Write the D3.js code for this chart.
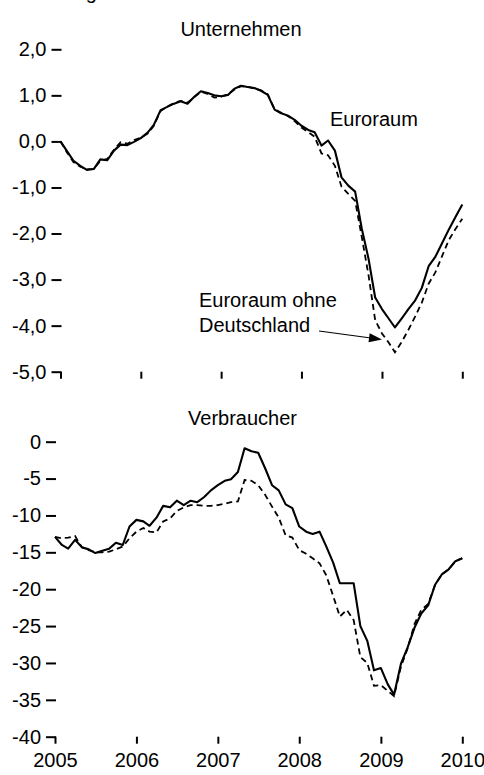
<!DOCTYPE html>
<html>
<head>
<meta charset="utf-8">
<script src="https://cdn.jsdelivr.net/npm/d3@7"></script>
<style>
  body { margin: 0; background: #fff; }
  svg text { font-family: "Liberation Sans", Arial, sans-serif; fill: #000; }
</style>
</head>
<body>
<svg id="chart" width="484" height="775"></svg>
<script>
// Monthly series, January 2005 to January 2010
const firstMonth = "2005-01-01";
const yearTicks = [2005, 2006, 2007, 2008, 2009, 2010];

// Vertrauensindikator Unternehmen
const firmsEuroArea = [
  0.00, -0.22, -0.42, -0.53, -0.62, -0.60, -0.39, -0.41, -0.20, -0.07, -0.08, -0.01,
  0.07, 0.19, 0.36, 0.68, 0.75, 0.82, 0.87, 0.82, 0.97, 1.09, 1.05, 1.00,
  0.98, 1.01, 1.14, 1.21, 1.18, 1.16, 1.10, 1.01, 0.69, 0.61, 0.56, 0.47,
  0.34, 0.25, 0.20, -0.09, 0.02, -0.20, -0.78, -0.96, -1.09, -1.89, -2.55, -3.39,
  -3.64, -3.85, -4.04, -3.84, -3.64, -3.45, -3.18, -2.71, -2.50, -2.21, -1.91, -1.64,
  -1.37
];
const firmsExGermany = [
  0.00, -0.25, -0.45, -0.55, -0.60, -0.60, -0.42, -0.38, -0.18, -0.02, -0.05, 0.03,
  0.08, 0.17, 0.34, 0.66, 0.76, 0.83, 0.88, 0.84, 0.96, 1.08, 1.03, 0.95,
  0.97, 1.02, 1.12, 1.20, 1.19, 1.15, 1.11, 1.02, 0.70, 0.62, 0.55, 0.44,
  0.30, 0.20, 0.10, -0.26, -0.30, -0.53, -0.98, -1.14, -1.29, -2.07, -2.91, -3.88,
  -4.17, -4.37, -4.58, -4.35, -4.09, -3.80, -3.50, -3.09, -2.84, -2.49, -2.14, -1.90,
  -1.68
];

// Vertrauensindikator Verbraucher
const consumersEuroArea = [
  -12.9, -14.0, -14.5, -13.3, -14.3, -14.6, -15.1, -14.8, -14.5, -13.7, -14.0, -11.5,
  -10.6, -10.8, -11.4, -10.3, -8.7, -8.9, -8.0, -8.6, -8.0, -8.2, -7.5, -6.6,
  -5.9, -5.3, -5.1, -4.1, -0.9, -1.3, -1.5, -3.6, -5.9, -6.6, -8.5, -9.0,
  -11.5, -12.2, -12.5, -12.2, -14.2, -16.4, -19.2, -19.2, -19.2, -25.0, -27.0, -31.0,
  -30.7, -32.9, -34.3, -30.1, -27.9, -25.2, -23.3, -22.2, -19.4, -18.0, -17.3, -16.2,
  -15.8
];
const consumersExGermany = [
  -12.9, -13.1, -13.0, -12.8, -14.3, -14.7, -15.0, -15.0, -14.9, -14.6, -14.2, -13.1,
  -12.2, -11.7, -12.2, -12.3, -10.8, -10.4, -9.4, -8.9, -8.6, -8.6, -8.7, -8.7,
  -8.6, -8.4, -8.2, -8.1, -5.2, -5.3, -5.9, -7.2, -8.8, -10.3, -12.7, -13.0,
  -14.7, -15.2, -15.8, -16.5, -18.1, -20.9, -23.7, -22.8, -24.2, -29.2, -30.0, -33.1,
  -33.0, -33.8, -34.5, -30.5, -28.0, -24.7, -22.8, -22.0, -19.4, -18.0, -17.3, -16.2,
  -15.8
];

const firmsTicks = [2, 1, 0, -1, -2, -3, -4, -5];
const consumersTicks = [0, -5, -10, -15, -20, -25, -30, -35, -40];

const svg = d3.select("#chart");
const FONT = 20;

const start = new Date(firstMonth + "T00:00:00");
const monthDates = d3.timeMonth.range(start, d3.timeMonth.offset(start, firmsEuroArea.length));
const yearDates = yearTicks.map(y => new Date(y, 0, 1));

function panel(cfg) {
  const x = d3.scaleTime()
    .domain([yearDates[0], yearDates[yearDates.length - 1]])
    .range(cfg.xRange);
  const y = d3.scaleLinear().domain(cfg.yDomain).range(cfg.yRange);
  const g = svg.append("g");

  // value axis: short tick marks with labels, no axis line
  const yAxis = g.append("g")
    .attr("transform", `translate(${cfg.xRange[0] + 1},0)`)
    .call(d3.axisLeft(y).tickValues(cfg.ticks).tickSize(10).tickPadding(5).tickFormat(cfg.fmt));
  yAxis.select(".domain").remove();
  yAxis.selectAll(".tick line").attr("stroke", "#000").attr("stroke-width", 2);
  yAxis.selectAll(".tick text").attr("font-size", FONT).attr("fill", "#000");

  // time axis: ticks hanging below the lowest value
  const xAxis = g.append("g")
    .attr("transform", `translate(0,${cfg.yRange[0]})`)
    .call(d3.axisBottom(x).tickValues(yearDates).tickSize(7).tickPadding(9)
      .tickFormat(cfg.showYears ? d3.timeFormat("%Y") : ""));
  xAxis.select(".domain").remove();
  xAxis.selectAll(".tick line").attr("stroke", "#000").attr("stroke-width", 2);
  xAxis.selectAll(".tick text").attr("font-size", FONT).attr("fill", "#000");

  const line = d3.line().x((d, i) => x(monthDates[i])).y(d => y(d));

  g.append("path").datum(cfg.exGermany)
    .attr("fill", "none").attr("stroke", "#000").attr("stroke-width", 1.8)
    .attr("stroke-dasharray", "6,4").attr("d", line);
  g.append("path").datum(cfg.euroArea)
    .attr("fill", "none").attr("stroke", "#000").attr("stroke-width", 2.1)
    .attr("stroke-linejoin", "round").attr("d", line);

  g.append("text")
    .attr("x", cfg.titleX).attr("y", cfg.titleY)
    .attr("text-anchor", "middle").attr("font-size", FONT)
    .text(cfg.title);

  return { x, y, g };
}

const fmtComma = d => d3.format(".1f")(d).replace(".", ",").replace("−", "-");
const fmtInt = d => d3.format("d")(d).replace("−", "-");

// caption line above the chart
svg.append("text").attr("x", 8).attr("y", -1).attr("font-size", FONT).text("Abbildung");

const firmsPanel = panel({
  xRange: [60.5, 462.3], yDomain: [-5, 2], yRange: [371.7, 49.3],
  ticks: firmsTicks, fmt: fmtComma, showYears: false,
  euroArea: firmsEuroArea, exGermany: firmsExGermany,
  title: "Unternehmen", titleX: 241, titleY: 36
});

const consumersPanel = panel({
  xRange: [55, 462.3], yDomain: [-40, 0], yRange: [736.7, 441.7],
  ticks: consumersTicks, fmt: fmtInt, showYears: true,
  euroArea: consumersEuroArea, exGermany: consumersExGermany,
  title: "Verbraucher", titleX: 242.5, titleY: 425
});

// series labels in the upper panel
firmsPanel.g.append("text").attr("x", 330).attr("y", 126).attr("font-size", FONT).text("Euroraum");
const lbl = firmsPanel.g.append("text").attr("font-size", FONT);
lbl.append("tspan").attr("x", 199).attr("y", 307).text("Euroraum ohne");
lbl.append("tspan").attr("x", 199).attr("y", 332).text("Deutschland");

// arrow from the label to the dashed line
const tail = [319, 331];
const tip = [firmsPanel.x(new Date(2009, 0, 1)), firmsPanel.y(-4.3)];
const dx = tip[0] - tail[0], dy = tip[1] - tail[1];
const len = Math.hypot(dx, dy);
const ux = dx / len, uy = dy / len;
const headLen = 13, headHalf = 4.5;
const bx = tip[0] - ux * headLen, by = tip[1] - uy * headLen;
firmsPanel.g.append("line")
  .attr("x1", tail[0]).attr("y1", tail[1]).attr("x2", bx).attr("y2", by)
  .attr("stroke", "#000").attr("stroke-width", 1.2);
firmsPanel.g.append("path")
  .attr("d", `M${tip[0]},${tip[1]}L${bx - uy * headHalf},${by + ux * headHalf}L${bx + uy * headHalf},${by - ux * headHalf}Z`)
  .attr("fill", "#000");
</script>
</body>
</html>
